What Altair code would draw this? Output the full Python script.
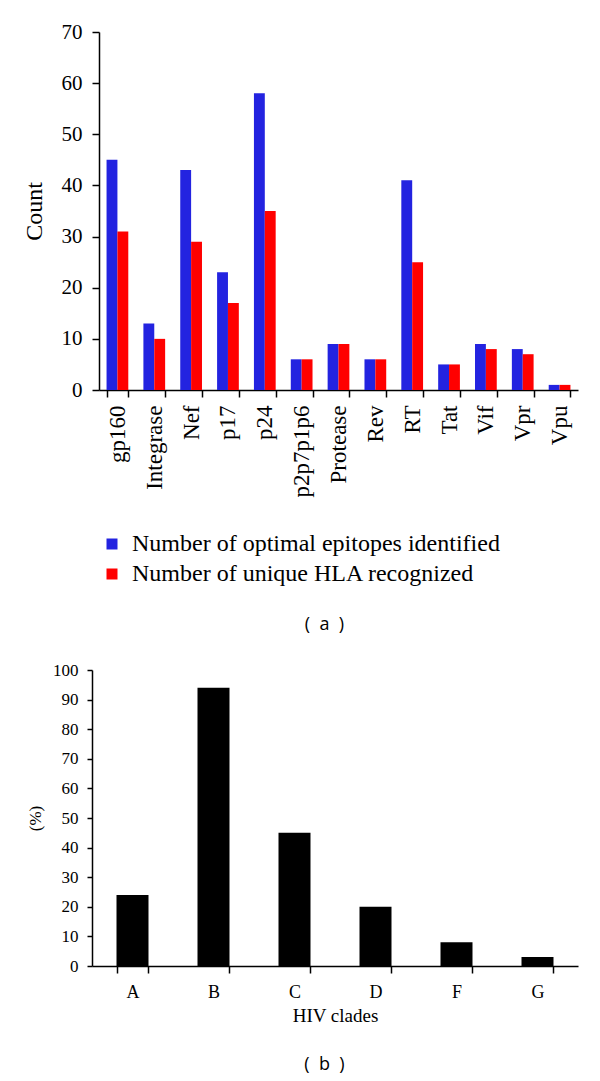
import altair as alt
import pandas as pd

# ---- data (panel a) ----
proteins = ["gp160", "Integrase", "Nef", "p17", "p24", "p2p7p1p6", "Protease",
            "Rev", "RT", "Tat", "Vif", "Vpr", "Vpu"]
epitopes = [45, 13, 43, 23, 58, 6, 9, 6, 41, 5, 9, 8, 1]
unique_hla = [31, 10, 29, 17, 35, 6, 9, 6, 25, 5, 8, 7, 1]
series_names = ["Number of optimal epitopes identified", "Number of unique HLA recognized"]
series_colors = ["#2323E0", "#FF0000"]
count_ticks = [0, 10, 20, 30, 40, 50, 60, 70]

# ---- data (panel b) ----
clades = ["A", "B", "C", "D", "F", "G"]
clade_pct = [24, 94, 45, 20, 8, 3]
pct_ticks = [0, 10, 20, 30, 40, 50, 60, 70, 80, 90, 100]

rows = []
for p, e, u in zip(proteins, epitopes, unique_hla):
    rows.append({"protein": p, "series": series_names[0], "value": e})
    rows.append({"protein": p, "series": series_names[1], "value": u})
df1 = pd.DataFrame(rows)
df2 = pd.DataFrame({"clade": clades, "pct": clade_pct})
blank = alt.Data(values=[{}])

serif = "Liberation Serif"
sans = "Open Sans"
W = 486
H1 = 358
H2 = 296
NB = "\u00a0"

bars1 = alt.Chart(df1).mark_bar().encode(
    x=alt.X("protein:N", sort=proteins,
            scale=alt.Scale(range=[7, W], paddingInner=0.41, paddingOuter=0.205),
            axis=alt.Axis(title=None, labelAngle=-90, labelFont=serif, labelFontSize=23,
                          labelColor="black", tickBand="extent", tickSize=7,
                          tickColor="black", tickWidth=1.5, domainColor="black",
                          domainWidth=1.5, labelPadding=8)),
    xOffset=alt.XOffset("series:N", sort=series_names),
    y=alt.Y("value:Q", scale=alt.Scale(domain=[0, 70]),
            axis=alt.Axis(values=count_ticks, title="Count", offset=-7, grid=False,
                          labelFont=serif, labelFontSize=21, labelColor="black",
                          tickSize=7, tickColor="black", tickWidth=1.5,
                          domainColor="black", domainWidth=1.5, labelPadding=10,
                          titleFont=serif, titleFontSize=24, titleFontWeight="normal",
                          titleColor="black", titlePadding=15)),
    color=alt.Color("series:N", sort=series_names,
                    scale=alt.Scale(domain=series_names, range=series_colors),
                    legend=alt.Legend(title=None, orient="none", legendX=8, legendY=500,
                                      labelFont=serif, labelFontSize=24, labelColor="black",
                                      symbolType="square", symbolSize=121,
                                      symbolStrokeWidth=0, labelOffset=8, rowPadding=6,
                                      labelLimit=500)),
)

label_a = alt.Chart(blank).mark_text(font=sans, fontSize=18, color="black",
                                     baseline="middle", align="center").encode(
    x=alt.value(232.5), y=alt.value(593), text=alt.value("(" + NB + NB + "a" + NB + NB + ")"))

top = alt.layer(bars1, label_a).properties(width=W, height=H1)

bars2 = alt.Chart(df2).mark_bar(color="black").encode(
    x=alt.X("clade:N", sort=clades,
            scale=alt.Scale(paddingInner=0.605, paddingOuter=0.3025),
            axis=alt.Axis(title="HIV clades", labelAngle=0, labelFont=serif,
                          labelFontSize=18, labelColor="black", tickBand="extent",
                          tickSize=7, tickColor="black", tickWidth=1.5,
                          domainColor="black", domainWidth=1.5, labelPadding=10,
                          titleFont=serif, titleFontSize=19, titleFontWeight="normal",
                          titleColor="black", titlePadding=5)),
    y=alt.Y("pct:Q", scale=alt.Scale(domain=[0, 100]),
            axis=alt.Axis(values=pct_ticks, title="(%)", grid=False, labelFont=serif,
                          labelFontSize=17, labelColor="black", tickSize=5,
                          tickColor="black", tickWidth=1.5, domainColor="black",
                          domainWidth=1.5, labelPadding=9, titleFont=serif,
                          titleFontSize=17, titleFontWeight="normal",
                          titleColor="black", titlePadding=8)),
)

label_b = alt.Chart(blank).mark_text(font=sans, fontSize=18, color="black",
                                     baseline="middle", align="center").encode(
    x=alt.value(232.5), y=alt.value(395), text=alt.value("(" + NB + NB + "b" + NB + NB + ")"))

bottom = alt.layer(bars2, label_b).properties(width=W, height=H2)

chart = alt.vconcat(top, bottom, spacing=27).properties(
    padding={"top": 13, "left": 14, "right": 5, "bottom": 5}
).configure(background="white").configure_view(stroke=None)

chart.save("out.html", embed_options={"renderer": "svg", "actions": False})
